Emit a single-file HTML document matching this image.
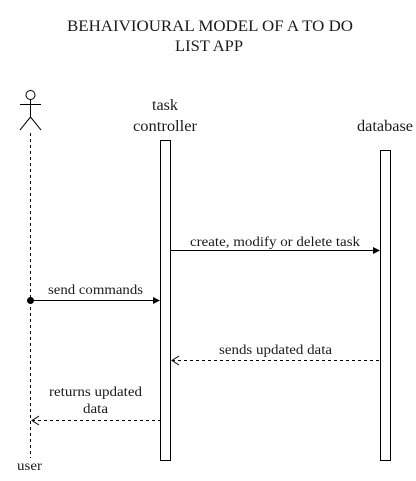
<!DOCTYPE html>
<html><head><style>html,body{margin:0;padding:0;background:#fff}svg{display:block}</style></head>
<body>
<svg width="416" height="481" viewBox="0 0 416 481" xmlns="http://www.w3.org/2000/svg" font-family="Liberation Serif, serif" fill="#1a1a1a">
<text x="67" y="31" font-size="16" textLength="286" lengthAdjust="spacingAndGlyphs">BEHAIVIOURAL MODEL OF A TO DO</text>
<text x="175" y="51" font-size="16" textLength="68" lengthAdjust="spacingAndGlyphs">LIST APP</text>
<g stroke="#000" fill="none" stroke-width="1">
<circle cx="30.5" cy="95" r="4.5" fill="#fff"/>
<line x1="20" y1="104.5" x2="41" y2="104.5"/>
<line x1="30.5" y1="99.5" x2="30.5" y2="117"/>
<line x1="30.5" y1="117" x2="20" y2="130"/>
<line x1="30.5" y1="117" x2="41" y2="130"/>
<line x1="30.5" y1="133" x2="30.5" y2="458" stroke-dasharray="3,3"/>
<rect x="160.5" y="140.5" width="10" height="320" fill="#fff"/>
<rect x="380.5" y="150.5" width="10" height="310" fill="#fff"/>
<line x1="170.5" y1="250.5" x2="374" y2="250.5"/>
<line x1="30.5" y1="300.5" x2="154" y2="300.5"/>
<line x1="172" y1="360.5" x2="380" y2="360.5" stroke-dasharray="3,3"/>
<polyline points="179,356 172,360.5 179,365"/>
<line x1="32" y1="420.5" x2="160" y2="420.5" stroke-dasharray="3,3"/>
<polyline points="39,416 32,420.5 39,425"/>
</g>
<polygon points="373,247 380,250.5 373,254" fill="#000"/>
<polygon points="153,297 160,300.5 153,304" fill="#000"/>
<circle cx="30.5" cy="300.5" r="3.5" fill="#000"/>
<text x="152" y="110" font-size="16" textLength="26" lengthAdjust="spacingAndGlyphs">task</text>
<text x="133" y="131" font-size="16" textLength="64" lengthAdjust="spacingAndGlyphs">controller</text>
<text x="357" y="131" font-size="16" textLength="56" lengthAdjust="spacingAndGlyphs">database</text>
<text x="190" y="246" font-size="14" textLength="170" lengthAdjust="spacingAndGlyphs">create, modify or delete task</text>
<text x="48" y="294" font-size="14" textLength="95" lengthAdjust="spacingAndGlyphs">send commands</text>
<text x="219" y="354" font-size="14" textLength="113" lengthAdjust="spacingAndGlyphs">sends updated data</text>
<text x="49" y="396" font-size="14" textLength="93" lengthAdjust="spacingAndGlyphs">returns updated</text>
<text x="83" y="413" font-size="14" textLength="25" lengthAdjust="spacingAndGlyphs">data</text>
<text x="17" y="470" font-size="14" textLength="25" lengthAdjust="spacingAndGlyphs">user</text>
</svg>
</body></html>
